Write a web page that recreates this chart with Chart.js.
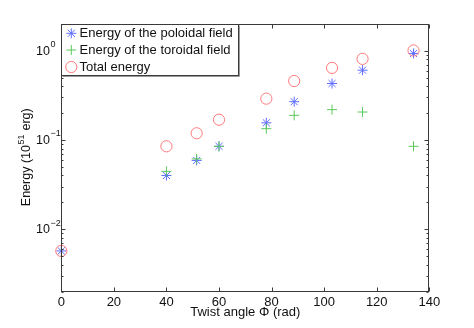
<!DOCTYPE html>
<html><head><meta charset="utf-8">
<script src="https://cdn.jsdelivr.net/npm/chart.js@4"></script>
<style>html,body{margin:0;padding:0;background:#fff;}#wrap{width:474px;height:328px;}</style>
</head><body><div id="wrap"><canvas id="c" width="474" height="328"></canvas></div>
<script>
const twistAngle = [0, 40, 51.5, 60, 78, 88.6, 103, 114.6, 134];
const poloidalEnergy = [0.0057, 0.040, 0.059, 0.085, 0.156, 0.269, 0.43, 0.607, 0.935];
const toroidalEnergy = [null, 0.0445, 0.0614, 0.085, 0.134, 0.189, 0.219, 0.206, 0.085];
const totalEnergy = [0.0057, 0.085, 0.119, 0.169, 0.291, 0.459, 0.644, 0.813, 1.01];
const xTicks = [0, 20, 40, 60, 80, 100, 120, 140];
const yDecades = [-2, -1, 0];
const legendLabels = ['Energy of the poloidal field', 'Energy of the toroidal field', 'Total energy'];

const FONT = "'Liberation Sans', Arial, sans-serif";
const C_POL = '#5f6eff', C_TOR = '#5cc85c', C_TOT = '#ff7a7a';
const pts = arr => twistAngle.map((x, i) => ({x: x, y: arr[i]})).filter(p => p.y !== null);

const styles = [
  {style: 'star', color: C_POL, r: 5},
  {style: 'cross', color: C_TOR, r: 5},
  {style: 'circle', color: C_TOT, r: 5.6}
];

const matlabPlugin = {
  id: 'matlab',
  afterDraw(chart) {
    const ctx = chart.ctx, a = chart.chartArea;
    const xs = chart.scales.x, ys = chart.scales.y;
    ctx.save();
    ctx.strokeStyle = '#3a3a3a';
    ctx.lineWidth = 1;
    const L = Math.round(a.left) + 0.5, R = Math.round(a.right) - 0.5;
    const T = Math.round(a.top) + 0.5, B = Math.round(a.bottom) - 0.5;
    ctx.strokeRect(L, T, R - L, B - T);
    ctx.beginPath();
    xTicks.forEach(v => {
      const p = Math.round(xs.getPixelForValue(v)) + 0.5;
      ctx.moveTo(p, B); ctx.lineTo(p, B - 4);
      ctx.moveTo(p, T); ctx.lineTo(p, T + 4);
    });
    for (let d = -3; d <= 0; d++) {
      for (let k = 1; k <= 9; k++) {
        const v = k * Math.pow(10, d);
        if (v < ys.min * 0.999 || v > ys.max * 1.001) continue;
        const p = Math.round(ys.getPixelForValue(v)) + 0.5;
        const len = k === 1 ? 4 : 2;
        ctx.moveTo(L, p); ctx.lineTo(L + len, p);
        ctx.moveTo(R, p); ctx.lineTo(R - len, p);
      }
    }
    ctx.stroke();
    // y tick labels with superscript
    ctx.fillStyle = '#111';
    ctx.textBaseline = 'middle';
    ctx.textAlign = 'left';
    yDecades.forEach(d => {
      const p = ys.getPixelForValue(Math.pow(10, d));
      ctx.font = '12.5px ' + FONT;
      ctx.fillText('10', 36, p + 0.5);
      const w = ctx.measureText('10').width;
      ctx.font = '9px ' + FONT;
      ctx.fillText(d < 0 ? '\u2212' + (-d) : String(d), 36 + w + 0.5, p - 6);
    });
    // y title
    ctx.save();
    const cy = (a.top + a.bottom) / 2;
    ctx.translate(29.5, cy);
    ctx.rotate(-Math.PI / 2);
    ctx.textBaseline = 'alphabetic';
    ctx.font = '12.5px ' + FONT;
    const p1 = 'Energy (10', p3 = ' erg)';
    const w1 = ctx.measureText(p1).width, w3 = ctx.measureText(p3).width;
    ctx.font = '9px ' + FONT;
    const w2 = ctx.measureText('51').width;
    let x0 = -(w1 + w2 + w3) / 2;
    ctx.font = '12.5px ' + FONT;
    ctx.fillText(p1, x0, 0);
    ctx.font = '9px ' + FONT;
    ctx.fillText('51', x0 + w1 + 0.5, -6);
    ctx.font = '12.5px ' + FONT;
    ctx.fillText(p3, x0 + w1 + w2 + 1, 0);
    ctx.restore();
    // legend
    const lx = L, ly = T, lw = 177, lh = 51;
    ctx.fillStyle = '#fff';
    ctx.fillRect(lx, ly, lw, lh);
    ctx.strokeStyle = '#9a9a9a';
    ctx.beginPath();
    ctx.moveTo(lx + 1, ly + lh + 1); ctx.lineTo(lx + lw + 1, ly + lh + 1); ctx.lineTo(lx + lw + 1, ly + 1);
    ctx.stroke();
    ctx.strokeStyle = '#3a3a3a';
    ctx.strokeRect(lx, ly, lw, lh);
    const rows = [33.3, 50, 67];
    legendLabels.forEach((lab, i) => {
      const s = styles[i];
      ctx.strokeStyle = s.color; ctx.fillStyle = 'rgba(0,0,0,0)'; ctx.lineWidth = 1;
      Chart.helpers.drawPoint(ctx, {pointStyle: s.style, radius: s.r, borderWidth: 1, rotation: 0}, 71.3, rows[i]);
      ctx.fillStyle = '#111';
      ctx.font = '13px ' + FONT;
      ctx.textBaseline = 'middle';
      ctx.fillText(lab, 79.5, rows[i] + 0.5);
    });
    ctx.restore();
  }
};

new Chart(document.getElementById('c'), {
  type: 'scatter',
  data: {
    datasets: [
      {label: legendLabels[0], data: pts(poloidalEnergy), pointStyle: 'star', pointRadius: 5, borderColor: C_POL, backgroundColor: 'rgba(0,0,0,0)', pointBorderWidth: 1, order: 2},
      {label: legendLabels[1], data: pts(toroidalEnergy), pointStyle: 'cross', pointRadius: 5, borderColor: C_TOR, backgroundColor: 'rgba(0,0,0,0)', pointBorderWidth: 1, order: 1},
      {label: legendLabels[2], data: pts(totalEnergy), pointStyle: 'circle', pointRadius: 5.6, borderColor: C_TOT, backgroundColor: 'rgba(0,0,0,0)', pointBorderWidth: 1, order: 0}
    ]
  },
  options: {
    responsive: false,
    animation: false,
    events: [],
    clip: false,
    layout: {padding: {left: 0, right: 44.7, top: 24, bottom: 8}},
    plugins: {legend: {display: false}, tooltip: {enabled: false}},
    scales: {
      x: {
        type: 'linear', min: 0, max: 140,
        afterBuildTicks: s => { s.ticks = xTicks.map(v => ({value: v})); },
        grid: {display: false, drawTicks: false},
        border: {display: false},
        ticks: {color: '#111', font: {family: FONT, size: 13}, padding: 3, maxRotation: 0, autoSkip: false},
        title: {display: true, text: 'Twist angle \u03A6 (rad)', color: '#111', font: {family: FONT, size: 13}, padding: 0},
        afterFit: s => { s.height = 28.5; }
      },
      y: {
        type: 'logarithmic', min: 0.002, max: 2,
        grid: {display: false, drawTicks: false},
        border: {display: false},
        ticks: {display: false},
        afterFit: s => { s.width = 61.3; }
      }
    }
  },
  plugins: [matlabPlugin]
});
</script></body></html>
